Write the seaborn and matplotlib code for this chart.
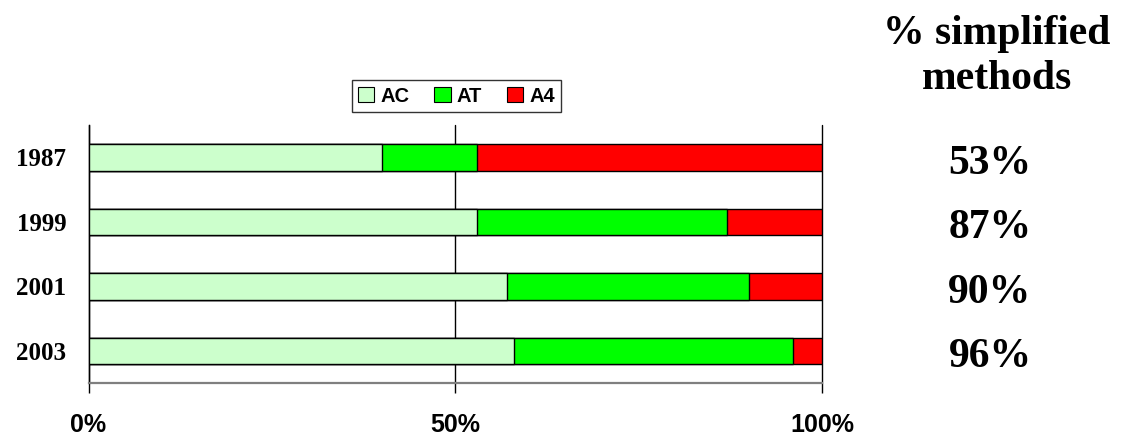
import matplotlib
matplotlib.use("Agg")
import matplotlib.pyplot as plt
import matplotlib.transforms as mtransforms
from matplotlib.patches import Patch
import seaborn as sns
import pandas as pd

# Share of each method per survey year (percent)
years = ["1987", "1999", "2001", "2003"]
ac = [40, 53, 57, 58]
at = [13, 34, 33, 38]
a4 = [47, 13, 10, 4]
series_names = ["AC", "AT", "A4"]
series_colors = ["#CCFFCC", "#00FF00", "#FF0000"]
x_ticks = [0, 50, 100]
x_tick_labels = ["0%", "50%", "100%"]

sns.set_style("white")
serif = ["Liberation Serif", "DejaVu Serif"]
sans = ["Liberation Sans", "DejaVu Sans"]
plt.rcParams["font.family"] = sans
plt.rcParams["text.color"] = "black"
plt.rcParams["xtick.color"] = "black"
plt.rcParams["ytick.color"] = "black"
plt.rcParams["xtick.labelcolor"] = "black"
plt.rcParams["ytick.labelcolor"] = "black"

df = pd.DataFrame({"year": years, "AC": ac, "AT": at, "A4": a4})
df["cum_ac"] = df["AC"]
df["cum_at"] = df["AC"] + df["AT"]
df["cum_a4"] = df["AC"] + df["AT"] + df["A4"]

fig = plt.figure(figsize=(11.21, 4.36), dpi=100)
ax = fig.add_axes([88.5 / 1121, 1 - 383.3 / 436, (822 - 88.5) / 1121, (383.3 - 125) / 436])

# Stacked bars drawn back to front from cumulative totals
for col, color in zip(["cum_a4", "cum_at", "cum_ac"], series_colors[::-1]):
    sns.barplot(data=df, x=col, y="year", orient="h", color=color,
                width=0.41, edgecolor="black", linewidth=1.0,
                saturation=1, ax=ax, zorder=3)

ax.set_xlim(0, 100)
ax.set_ylim(3.5, -0.5)
ax.set_xlabel("")
ax.set_ylabel("")
ax.set_xticks(x_ticks)
ax.set_xticklabels(x_tick_labels, fontsize=18, fontweight="bold", family=sans, color="black")
ax.set_yticks(range(len(years)))
ax.set_yticklabels(years, fontsize=18, fontweight="bold", family=serif, color="black")
ax.tick_params(axis="x", bottom=True, direction="out", length=7.5, width=1,
               color="black", pad=14)
ax.tick_params(axis="y", left=False, length=0, pad=16)

for xv in x_ticks:
    ax.axvline(xv, color="black", linewidth=1, zorder=1, clip_on=False)

for side in ["top", "right"]:
    ax.spines[side].set_visible(False)
ax.spines["left"].set_color("black")
ax.spines["left"].set_linewidth(1)
ax.spines["bottom"].set_color("#7f7f7f")
ax.spines["bottom"].set_linewidth(1.6)

handles = [Patch(facecolor=c, edgecolor="black", linewidth=0.8) for c in series_colors]
leg = fig.legend(handles, series_names, loc="center", bbox_to_anchor=(456.5 / 1121, 1 - 96 / 436),
                 ncol=3, frameon=True, fancybox=False, handlelength=0.8, handleheight=0.8,
                 handletextpad=0.3, columnspacing=1.25, borderpad=0.3,
                 prop={"family": sans, "weight": "bold", "size": 14.5})
leg.get_frame().set_edgecolor("black")
leg.get_frame().set_linewidth(1)
for t in leg.get_texts():
    t.set_color("black")

fig.text(997 / 1121, 1 - 56.5 / 436, "% simplified\nmethods", ha="center", va="center",
         fontsize=30, fontweight="bold", family=serif, linespacing=1.25, color="black")

simplified = [a + b for a, b in zip(ac, at)]
trans = mtransforms.blended_transform_factory(fig.transFigure, ax.transData)
for i, v in enumerate(simplified):
    ax.text(990 / 1121, i + 0.1, f"{v}%", transform=trans, ha="center", va="center",
            fontsize=30, fontweight="bold", family=serif, clip_on=False, color="black")

fig.savefig("out.png", dpi=100)
